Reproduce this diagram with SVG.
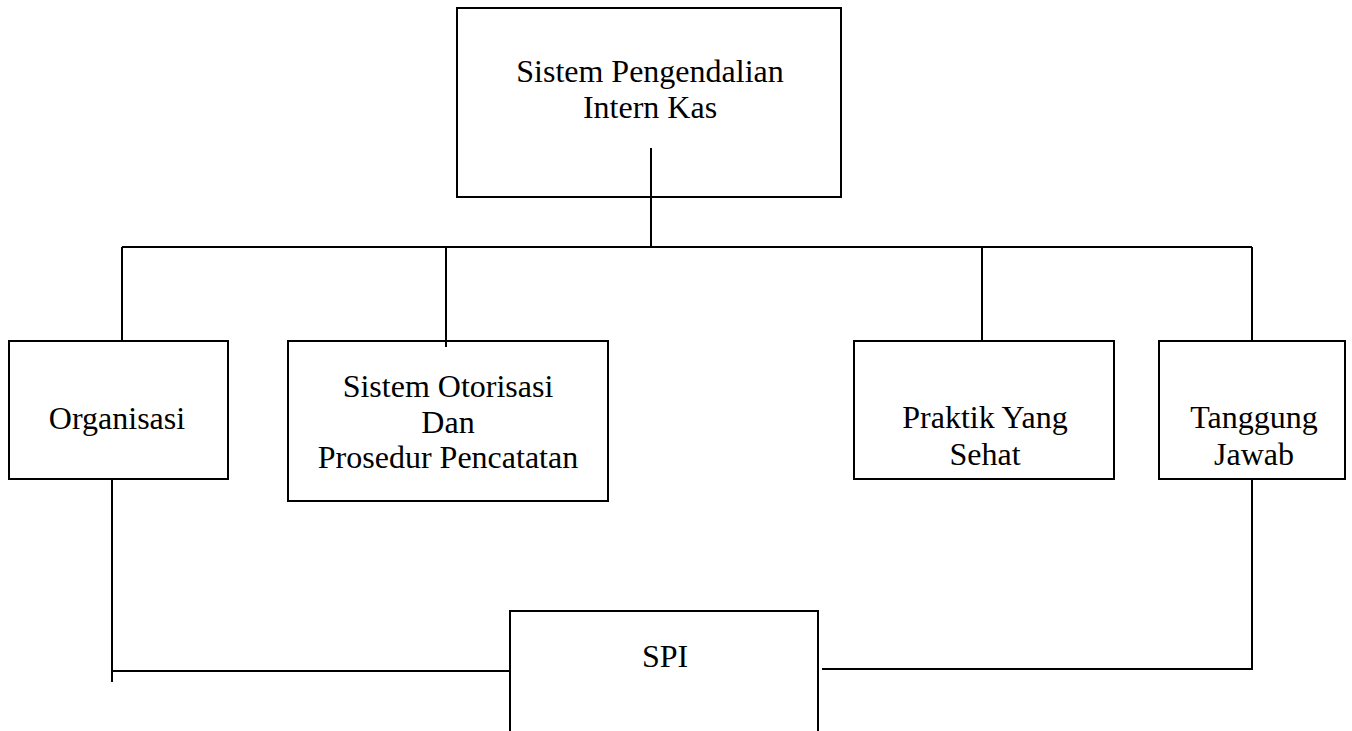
<svg xmlns="http://www.w3.org/2000/svg" width="1352" height="731" viewBox="0 0 1352 731">
<style>
.box{fill:#fff;stroke:#000;stroke-width:2}
.ln{fill:none;stroke:#000;stroke-width:2}
.t{font-size:32px;fill:#000;text-anchor:middle}
</style>
<rect width="1352" height="731" fill="#fff"/>
<g font-family="'Liberation Serif', 'Times New Roman', Times, serif">
<g id="top">
<rect class="box" x="457" y="8" width="384" height="189"/>
<text class="t" x="650" y="82">Sistem Pengendalian</text>
<text class="t" x="650" y="118">Intern Kas</text>
</g>
<g id="organisasi">
<rect class="box" x="9" y="341" width="219" height="138"/>
<text class="t" x="117" y="429">Organisasi</text>
</g>
<g id="otorisasi">
<rect class="box" x="288" y="341" width="320" height="160"/>
<text class="t" x="448" y="397">Sistem Otorisasi</text>
<text class="t" x="448" y="433">Dan</text>
<text class="t" x="448" y="468">Prosedur Pencatatan</text>
</g>
<g id="praktik">
<rect class="box" x="854" y="341" width="260" height="138"/>
<text class="t" x="985" y="428">Praktik Yang</text>
<text class="t" x="985" y="465">Sehat</text>
</g>
<g id="tanggung">
<rect class="box" x="1159" y="341" width="186" height="138"/>
<text class="t" x="1254" y="428">Tanggung</text>
<text class="t" x="1254" y="465">Jawab</text>
</g>
<g id="spi">
<path class="ln" d="M510 731 V611 H818 V731"/>
<text class="t" x="665" y="667">SPI</text>
</g>
</g>
<g id="connectors">
<path class="ln" d="M651 148 V247"/>
<path class="ln" d="M122 247 H1252"/>
<path class="ln" d="M122 247 V341"/>
<path class="ln" d="M446 247 V347"/>
<path class="ln" d="M982 247 V341"/>
<path class="ln" d="M1252 247 V341"/>
<path class="ln" d="M112 479 V682"/>
<path class="ln" d="M112 671 H510"/>
<path class="ln" d="M1252 479 V670"/>
<path class="ln" d="M822 669 H1252"/>
</g>
</svg>
